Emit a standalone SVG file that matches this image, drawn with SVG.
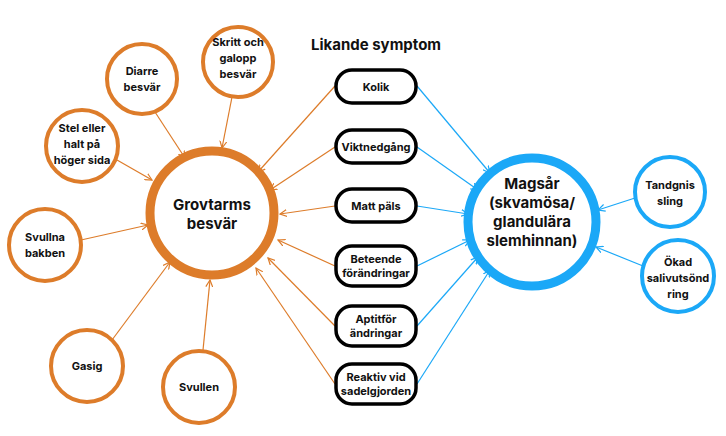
<svg xmlns="http://www.w3.org/2000/svg" width="726" height="436" viewBox="0 0 726 436">
<style>
text{font-family:Inter,"Liberation Sans",sans-serif;font-weight:bold;fill:#111;text-anchor:middle}
.o{fill:#fff;stroke:#dd7c2a}
.b{fill:#fff;stroke:#1ba8f7}
.box{fill:#fff;stroke:#000;stroke-width:3.5}
.lo{stroke:#dd7c2a;stroke-width:1.2;fill:none;marker-end:url(#ao)}
.lb{stroke:#1ba8f7;stroke-width:1.2;fill:none;marker-end:url(#ab)}
.s{font-size:11px}
</style>
<defs>
<marker id="ao" markerWidth="8" markerHeight="8" refX="7" refY="4" orient="auto" markerUnits="userSpaceOnUse"><path d="M0,0.5 L7,4 L0,7.5" fill="none" stroke="#dd7c2a" stroke-width="1.2"/></marker>
<marker id="ab" markerWidth="8" markerHeight="8" refX="7" refY="4" orient="auto" markerUnits="userSpaceOnUse"><path d="M0,0.5 L7,4 L0,7.5" fill="none" stroke="#1ba8f7" stroke-width="1.2"/></marker>
</defs>
<g id="connectors">
<line class="lo" x1="335" y1="86" x2="258" y2="172"/>
<line class="lo" x1="335" y1="147" x2="270" y2="190"/>
<line class="lo" x1="335" y1="206" x2="280" y2="214"/>
<line class="lo" x1="335" y1="266" x2="278" y2="240"/>
<line class="lo" x1="335" y1="326" x2="268" y2="258"/>
<line class="lo" x1="335" y1="384" x2="256" y2="268"/>
<line class="lb" x1="417" y1="86" x2="490" y2="173"/>
<line class="lb" x1="417" y1="147" x2="478" y2="190"/>
<line class="lb" x1="417" y1="206" x2="468" y2="214"/>
<line class="lb" x1="417" y1="266" x2="470" y2="240"/>
<line class="lb" x1="417" y1="326" x2="478" y2="257"/>
<line class="lb" x1="417" y1="384" x2="490" y2="270"/>
<line class="lo" x1="232" y1="97" x2="222" y2="148"/>
<line class="lo" x1="155" y1="112" x2="185" y2="158"/>
<line class="lo" x1="117" y1="160" x2="152" y2="180"/>
<line class="lo" x1="81" y1="240" x2="148" y2="225"/>
<line class="lo" x1="112" y1="340" x2="170" y2="262"/>
<line class="lo" x1="203" y1="350" x2="210" y2="280"/>
<line class="lb" x1="635" y1="198" x2="598" y2="210"/>
<line class="lb" x1="643" y1="266" x2="596" y2="247"/>
</g>
<g id="grovtarm"><circle class="o" cx="212" cy="213" r="62" stroke-width="9"/><text x="212" y="210" font-size="15">Grovtarms</text><text x="212" y="229" font-size="15">besvär</text></g>
<g id="skritt"><circle class="o" cx="238" cy="62" r="35" stroke-width="4"/><text class="s" x="238" y="46">Skritt och</text><text class="s" x="238" y="62">galopp</text><text class="s" x="238" y="78">besvär</text></g>
<g id="diarre"><circle class="o" cx="142" cy="79" r="35" stroke-width="4"/><text class="s" x="142" y="75">Diarre</text><text class="s" x="142" y="91">besvär</text></g>
<g id="stel"><circle class="o" cx="82" cy="146" r="36" stroke-width="4"/><text class="s" x="82" y="132">Stel eller</text><text class="s" x="82" y="148">halt på</text><text class="s" x="82" y="164">höger sida</text></g>
<g id="svullna"><circle class="o" cx="45" cy="245" r="36" stroke-width="4"/><text class="s" x="45" y="241">Svullna</text><text class="s" x="45" y="257">bakben</text></g>
<g id="gasig"><circle class="o" cx="87" cy="366" r="36" stroke-width="4"/><text class="s" x="87" y="370">Gasig</text></g>
<g id="svullen"><circle class="o" cx="199" cy="387" r="36" stroke-width="4"/><text class="s" x="199" y="391">Svullen</text></g>
<g id="magsar"><circle class="b" cx="532" cy="222" r="64" stroke-width="9"/><text x="532" y="189" font-size="15">Magsår</text><text x="532" y="208" font-size="15">(skvamösa/</text><text x="532" y="227" font-size="15">glandulära</text><text x="532" y="246" font-size="15">slemhinnan)</text></g>
<g id="tandgnis"><circle class="b" cx="670" cy="192" r="35" stroke-width="4"/><text class="s" x="670" y="189">Tandgnis</text><text class="s" x="670" y="205">sling</text></g>
<g id="okad"><circle class="b" cx="678" cy="276" r="36" stroke-width="4"/><text class="s" x="678" y="266">Ökad</text><text class="s" x="678" y="282">salivutsönd</text><text class="s" x="678" y="298">ring</text></g>
<text x="376" y="50" font-size="15">Likande symptom</text>
<g id="kolik"><rect class="box" x="336" y="70" width="80" height="33" rx="16"/><text class="s" x="376" y="91">Kolik</text></g>
<g id="vikt"><rect class="box" x="336" y="130" width="80" height="33" rx="16"/><text class="s" x="376" y="151">Viktnedgång</text></g>
<g id="matt"><rect class="box" x="336" y="189" width="80" height="33" rx="16"/><text class="s" x="376" y="210">Matt päls</text></g>
<g id="beteende"><rect class="box" x="336" y="246" width="80" height="40" rx="16"/><text class="s" x="376" y="263">Beteende</text><text class="s" x="376" y="277">förändringar</text></g>
<g id="aptit"><rect class="box" x="336" y="306" width="80" height="40" rx="16"/><text class="s" x="376" y="323">Aptitför</text><text class="s" x="376" y="337">ändringar</text></g>
<g id="reaktiv"><rect class="box" x="336" y="364" width="80" height="40" rx="16"/><text class="s" x="376" y="381">Reaktiv vid</text><text class="s" x="376" y="395">sadelgjorden</text></g>
</svg>
